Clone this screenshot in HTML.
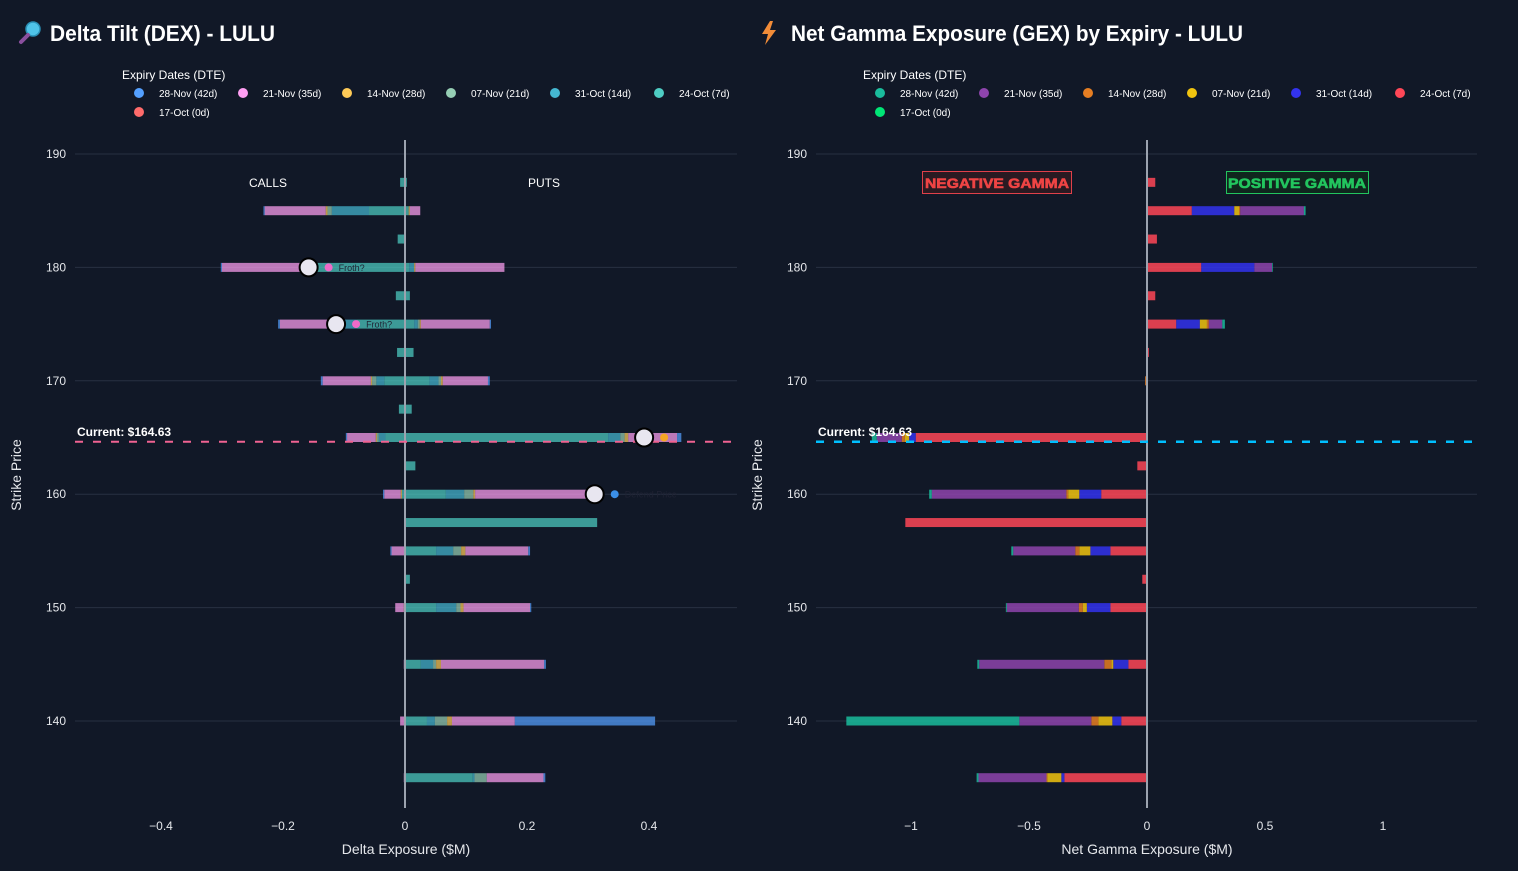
<!DOCTYPE html>
<html><head><meta charset="utf-8"><style>
html,body{margin:0;padding:0;background:#111827;}
svg{display:block;font-family:"Liberation Sans",sans-serif;}
</style></head><body>
<svg id="c" width="1518" height="871" viewBox="0 0 1518 871">
<rect width="1518" height="871" fill="#111827"/>
<g>
<circle cx="33" cy="29" r="7" fill="#4fc3e8" stroke="#2a8fb5" stroke-width="1.5"/>
<line x1="28" y1="35" x2="21" y2="42" stroke="#8a4f9e" stroke-width="4" stroke-linecap="round"/>
<text x="50" y="41" font-size="22" font-weight="bold" fill="#fff" textLength="225" lengthAdjust="spacingAndGlyphs">Delta Tilt (DEX) - LULU</text>
</g>
<g>
<polygon points="770,21 762,34 768,34 765,45 776,30 770,30 773,21" fill="#f28c38"/>
<text x="791" y="41" font-size="22" font-weight="bold" fill="#fff" textLength="452" lengthAdjust="spacingAndGlyphs">Net Gamma Exposure (GEX) by Expiry - LULU</text>
</g>
<g id="L"></g><g id="R"></g>
</svg>
<script>
const strikes=[187.5,185,182.5,180,177.5,175,172.5,170,167.5,165,162.5,160,157.5,155,152.5,150,145,140,135];
const expiryNames=["28-Nov (42d)","21-Nov (35d)","14-Nov (28d)","07-Nov (21d)","31-Oct (14d)","24-Oct (7d)","17-Oct (0d)"];
const yTicks=[190,180,170,160,150,140];
const dexXTicks=[-0.4,-0.2,0,0.2,0.4];
const gexXTicks=[-1,-0.5,0,0.5,1];
const currentPrice=164.63;
// DEX calls (negative) per expiry
const dexCalls17Oct=[0,0,0,0,0,0,0,0,0,0,0,0,0,0,0,0,0,0,0];
const dexCalls24Oct=[-0.008,-0.059,-0.012,-0.145,-0.015,-0.08,-0.013,-0.034,-0.01,-0.032,-0.001,-0.005,0,0,0,0,0,0,0];
const dexCalls31Oct=[0,-0.061,0,0,0,-0.02,0,-0.013,0,-0.011,0,0,0,0,0,0,0,0,0];
const dexCalls07Nov=[0,-0.007,0,0,0,-0.005,0,-0.007,0,-0.003,0,0,0,0,0,0,0,0,0];
const dexCalls14Nov=[0,-0.003,0,-0.005,0,0,0,-0.002,0,-0.002,0,-0.002,0,0,0,-0.002,0,0,0];
const dexCalls21Nov=[0,-0.1,0,-0.15,0,-0.1,0,-0.079,0,-0.047,0,-0.027,0,-0.022,0,-0.014,-0.002,-0.008,-0.002];
const dexCalls28Nov=[0,-0.002,0,-0.002,0,-0.003,0,-0.003,0,-0.002,0,-0.002,0,-0.002,0,0,0,0,0];
// DEX puts (positive)
const dexPuts17Oct=[0,0,0,0,0,0,0,0,0,0,0,0,0,0,0,0,0,0,0];
const dexPuts24Oct=[0.003,0.006,0.001,0.007,0.008,0.015,0.014,0.04,0.011,0.333,0.017,0.067,0.315,0.051,0.008,0.051,0.026,0.036,0.111];
const dexPuts31Oct=[0,0,0,0.008,0,0.006,0,0.015,0,0.02,0,0.03,0,0.028,0,0.033,0.02,0.013,0.003];
const dexPuts07Nov=[0,0,0,0,0,0.003,0,0.004,0,0.007,0,0.015,0,0.013,0,0.007,0.005,0.02,0.02];
const dexPuts14Nov=[0,0.002,0,0.002,0,0.002,0,0.003,0,0.006,0,0.003,0,0.007,0,0.005,0.008,0.008,0];
const dexPuts21Nov=[0,0.017,0,0.146,0,0.113,0,0.074,0,0.08,0,0.196,0,0.103,0,0.109,0.169,0.103,0.093];
const dexPuts28Nov=[0,0,0,0,0,0.002,0,0.003,0,0.007,0,0,0,0.003,0,0.002,0.003,0.23,0.003];
// GEX per expiry
const gex17Oct=[0,0,0,0,0,0,0,0,0,0,0,0,0,0,0,0,0,0,0];
const gex24Oct=[0.035,0.19,0.042,0.23,0.035,0.124,0.008,0,0.002,-0.98,-0.041,-0.194,-1.024,-0.155,-0.02,-0.155,-0.079,-0.109,-0.35];
const gex31Oct=[0,0.18,0,0.225,0,0.1,0,0,0,-0.028,0,-0.093,0,-0.085,0,-0.1,-0.064,-0.038,-0.013];
const gex07Nov=[0,0.02,0,0,0,0.03,0,0,0,-0.018,0,-0.047,0,-0.047,0,-0.017,-0.008,-0.059,-0.059];
const gex14Nov=[0,0.005,0,0,0,0.008,0,-0.008,0,-0.013,0,-0.008,0,-0.017,0,-0.017,-0.03,-0.03,-0.004];
const gex21Nov=[0,0.27,0,0.075,0,0.057,0,0,0,-0.106,0,-0.57,0,-0.263,0,-0.305,-0.53,-0.305,-0.288];
const gex28Nov=[0,0.007,0,0.003,0,0.011,0,0,0,-0.021,0,-0.011,0,-0.008,0,-0.004,-0.008,-0.733,-0.008];
// DEX level markers
const markerStrikes=[180,175,165,160];
const markerValues=[-0.158,-0.113,0.392,0.311];
const markerLabels=["Froth?","Froth?","","Defend Price"];

const NS="http://www.w3.org/2000/svg";
function mk(parent,tag,attrs,txt){const e=document.createElementNS(NS,tag);for(const k in attrs)e.setAttribute(k,attrs[k]);if(txt!==undefined)e.textContent=txt;parent.appendChild(e);return e;}
const yScale=v=>154+(190-v)*11.34;
const dexX=v=>405+v*610;
const gexX=v=>1147+v*236;

function axes(g,x0,x1,xs,ticks,title,zero,tickFmt){
  yTicks.forEach(t=>{
    const l=mk(g,'line',{x1:x0,x2:x1,y1:yScale(t),y2:yScale(t),stroke:'#283042','stroke-width':1});
    
    
    const tx=mk(g,'text',{x:x0-9,y:yScale(t)+4,'font-size':12,fill:'#e5e7eb','text-anchor':'end'},t);
    
    
  });
  ticks.forEach(t=>{
    const tx=mk(g,'text',{x:xs(t),y:830,'font-size':12,fill:'#e5e7eb','text-anchor':'middle'},tickFmt(t));
    
    
  });
  const xt=mk(g,'text',{x:zero,y:854,'font-size':14,fill:'#e5e7eb','text-anchor':'middle'},title);
  
  
  const yt=mk(g,'text',{x:0,y:0,'font-size':14,fill:'#e5e7eb','text-anchor':'middle',transform:`translate(${x0-54},475) rotate(-90)`},'Strike Price');
  
  
}
function fmt(t){return t===0?'0':(t<0?'\u2212':'')+Math.abs(t);}
function legend(g,x,colors){
  const t=mk(g,'text',{x:x,y:79,'font-size':12,fill:'#fff'},'Expiry Dates (DTE)');
  
  
  expiryNames.forEach((n,i)=>{
    const row=i<6?0:1, col=i<6?i:0;
    const cx=x+17+col*104, cy=93+row*19;
    const e=mk(g,'g',{});
    
    
    mk(e,'circle',{cx:cx,cy:cy,r:5,fill:colors[i]});
    mk(e,'text',{x:cx+20,y:cy+4,'font-size':10,fill:'#fff'},n);
  });
}
function bar(g,x,a,b,strike,color,op){
  const x1=x(Math.min(a,b)),x2=x(Math.max(a,b));
  if(x2-x1<0.01)return;
  const r=mk(g,'rect',{x:x1,y:yScale(strike)-4.5,width:x2-x1,height:9,fill:color,'fill-opacity':op});
  
  
}
// ---------- DEX ----------
const L=document.getElementById('L');


axes(L,75,737,dexX,dexXTicks,'Delta Exposure ($M)',406,fmt);
const dexColors=['#54a0ff','#ff9ff3','#feca57','#96ceb4','#45b7d1','#4ecdc4','#ff6b6b'];
legend(L,122,dexColors);
const dexCallSeries=[dexCalls17Oct,dexCalls24Oct,dexCalls31Oct,dexCalls07Nov,dexCalls14Nov,dexCalls21Nov,dexCalls28Nov];
const dexPutSeries=[dexPuts17Oct,dexPuts24Oct,dexPuts31Oct,dexPuts07Nov,dexPuts14Nov,dexPuts21Nov,dexPuts28Nov];
const stackColDex=['#ff6b6b','#4ecdc4','#45b7d1','#96ceb4','#feca57','#ff9ff3','#54a0ff'];
strikes.forEach((s,i)=>{
  let neg=0,pos=0;
  dexCallSeries.forEach((arr,k)=>{bar(L,dexX,neg,neg+arr[i],s,stackColDex[k],0.72);neg+=arr[i];});
  dexPutSeries.forEach((arr,k)=>{bar(L,dexX,pos,pos+arr[i],s,stackColDex[k],0.72);pos+=arr[i];});
});
const lz=mk(L,'line',{x1:dexX(0),x2:dexX(0),y1:140,y2:808,stroke:'#9ca3af','stroke-width':2});


const lc=mk(L,'line',{x1:75,x2:737,y1:yScale(currentPrice),y2:yScale(currentPrice),stroke:'#f06292','stroke-width':2,'stroke-dasharray':'8,10'});


const lct=mk(L,'text',{x:77,y:436,'font-size':12,'font-weight':'bold',fill:'#fff'},'Current: $164.63');


const ca=mk(L,'text',{x:268,y:187,'font-size':12,fill:'#fff','text-anchor':'middle'},'CALLS');


const pa=mk(L,'text',{x:544,y:187,'font-size':12,fill:'#fff','text-anchor':'middle'},'PUTS');


markerStrikes.forEach((s,i)=>{
  const cx=dexX(markerValues[i]),cy=yScale(s);
  const m=mk(L,'g',{});
  
  
  mk(m,'circle',{cx:cx,cy:cy,r:9,fill:'#e8e6f0',stroke:'#000','stroke-width':2});
  const lbl=markerLabels[i];
  const dotCol=lbl==='Defend Price'?'#3b8fe8':(lbl===''?'#f5a623':'#f06ac8');
  mk(m,'circle',{cx:cx+20,cy:cy,r:4,fill:dotCol});
  if(lbl)mk(m,'text',{x:cx+30,y:cy+3.5,'font-size':9,fill:'#1f2233'},lbl);
});
// ---------- GEX ----------
const R=document.getElementById('R');


axes(R,816,1477,gexX,gexXTicks,'Net Gamma Exposure ($M)',1147,fmt);
const gexColors=['#1abc9c','#8e44ad','#e67e22','#f1c40f','#3333ee','#ff4757','#00e676'];
legend(R,863,gexColors);
const gexSeries=[gex24Oct,gex31Oct,gex07Nov,gex14Nov,gex21Nov,gex28Nov,gex17Oct];
const stackColGex=['#ff4757','#3333ee','#f1c40f','#e67e22','#8e44ad','#1abc9c','#00e676'];
strikes.forEach((s,i)=>{
  let neg=0,pos=0;
  gexSeries.forEach((arr,k)=>{const v=arr[i];
    if(v<0){bar(R,gexX,neg,neg+v,s,stackColGex[k],0.85);neg+=v;}
    else{bar(R,gexX,pos,pos+v,s,stackColGex[k],0.85);pos+=v;}});
});
const rz=mk(R,'line',{x1:gexX(0),x2:gexX(0),y1:140,y2:808,stroke:'#9ca3af','stroke-width':2});


const rc=mk(R,'line',{x1:816,x2:1477,y1:yScale(currentPrice),y2:yScale(currentPrice),stroke:'#00bfff','stroke-width':2.5,'stroke-dasharray':'8,10'});


const rct=mk(R,'text',{x:818,y:436,'font-size':12,'font-weight':'bold',fill:'#fff'},'Current: $164.63');


const ng=mk(R,'g',{});


mk(ng,'rect',{x:922.5,y:171.5,width:149,height:22,fill:'#2a1a22',stroke:'#e0404a','stroke-width':1});
mk(ng,'text',{x:925,y:188,'font-size':14,'font-weight':'bold',fill:'#ef4444',stroke:'#ef4444','stroke-width':0.6,textLength:144,lengthAdjust:'spacingAndGlyphs'},'NEGATIVE GAMMA');
const pg=mk(R,'g',{});


mk(pg,'rect',{x:1226.5,y:171.5,width:142,height:22,fill:'#10261e',stroke:'#22c55e','stroke-width':1});
mk(pg,'text',{x:1228,y:188,'font-size':14,'font-weight':'bold',fill:'#22c55e',stroke:'#22c55e','stroke-width':0.6,textLength:138,lengthAdjust:'spacingAndGlyphs'},'POSITIVE GAMMA');
</script>
</body></html>
